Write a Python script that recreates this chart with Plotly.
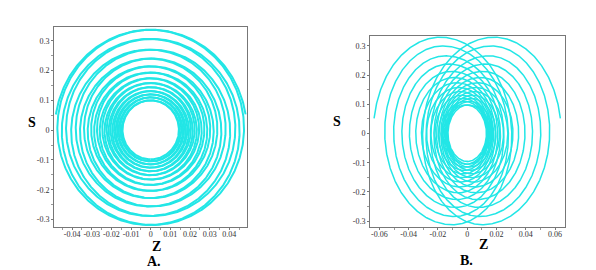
import numpy as np
import plotly.graph_objects as go

# ---- data ----
# ring radii in S (top crossings and bottom crossings, outer -> inner), one per turn
a_top = [0.337, 0.306, 0.270, 0.240, 0.214, 0.193, 0.174, 0.158, 0.144, 0.131, 0.120, 0.110, 0.100]
a_bot = [0.318, 0.288, 0.256, 0.228, 0.204, 0.184, 0.166, 0.151, 0.138, 0.126, 0.115, 0.105, 0.098]
a_zw = 0.145           # Z half-width per unit S radius (panel A)
b_top = [0.330, 0.300, 0.266, 0.238, 0.213, 0.192, 0.174, 0.158, 0.144, 0.131, 0.120, 0.110, 0.098]
b_bot = [0.312, 0.284, 0.253, 0.226, 0.203, 0.183, 0.166, 0.151, 0.138, 0.126, 0.115, 0.105, 0.096]
b_zw = 0.14
b_shift_top = [0.018, 0.016, 0.014, 0.012, 0.010, 0.0085, 0.007, 0.0055, 0.0045, 0.0035, 0.0025, 0.0015, 0.0005]
b_shift_bot = [0.011, 0.0095, 0.0085, 0.0075, 0.0065, 0.0055, 0.0046, 0.0038, 0.003, 0.0024, 0.0016, 0.001, 0.0004]
start_deg = 171.0

a_xticks = [-0.04, -0.03, -0.02, -0.01, 0, 0.01, 0.02, 0.03, 0.04]
a_xlabels = ["-0.04", "-0.03", "-0.02", "-0.01", "0", "0.01", "0.02", "0.03", "0.04"]
b_xticks = [-0.06, -0.04, -0.02, 0, 0.02, 0.04, 0.06]
b_xlabels = ["-0.06", "-0.04", "-0.02", "0", "0.02", "0.04", "0.06"]
yticks = [-0.3, -0.2, -0.1, 0, 0.1, 0.2, 0.3]
ylabels = ["-0.3", "-0.2", "-0.1", "0", "0.1", "0.2", "0.3"]

COLOR = "#22E6E6"
W, H = 596, 270


def spiral(tops, bots, zw, shift_t=None, shift_b=None):
    n = len(tops)
    key_ang, key_r, key_c = [], [], []
    for k in range(n):
        key_ang += [90 - 360 * k, -90 - 360 * k]
        key_r += [tops[k], bots[k]]
        if shift_t is not None:
            key_c += [shift_t[k], shift_b[k]]
        else:
            key_c += [0.0, 0.0]
    key_ang = np.array(key_ang)[::-1]
    key_r = np.array(key_r)[::-1]
    key_c = np.array(key_c)[::-1]
    th = np.arange(start_deg, key_ang[0] - 0.1, -0.75)
    r = np.interp(th, key_ang, key_r)
    c = np.interp(th, key_ang, key_c)
    t = np.deg2rad(th)
    z = zw * r * np.cos(t) - c
    s = r * np.sin(t)
    return z, s


fig = go.Figure()
za, sa = spiral(a_top, a_bot, a_zw)
zb, sb = spiral(b_top, b_bot, b_zw, b_shift_top, b_shift_bot)
for sign in (1, -1):
    fig.add_trace(go.Scatter(x=sign * za, y=sa, mode="lines", line=dict(color=COLOR, width=2),
                             xaxis="x", yaxis="y", showlegend=False, hoverinfo="skip"))
    fig.add_trace(go.Scatter(x=sign * zb, y=sb, mode="lines", line=dict(color=COLOR, width=1.5),
                             xaxis="x2", yaxis="y2", showlegend=False, hoverinfo="skip"))

tickfont = dict(family="Liberation Serif, Times New Roman, serif", size=8, color="#333")
common = dict(showgrid=False, zeroline=False, showline=True, mirror=True, linecolor="#777",
              linewidth=1, ticks="outside", ticklen=2, tickcolor="#777", tickfont=tickfont,
              tickangle=0,
              minor=dict(ticks="outside", ticklen=2, tickcolor="#999"))


def px(x):
    return x / W


def py(y):
    return 1 - y / H


fig.update_layout(
    width=W, height=H, margin=dict(l=0, r=0, t=0, b=0),
    paper_bgcolor="white", plot_bgcolor="white",
    xaxis=dict(domain=[px(54), px(247)], range=[-0.0492, 0.049], anchor="y",
               tickvals=a_xticks, ticktext=a_xlabels, ticklabelstandoff=-3, **common),
    yaxis=dict(domain=[py(227), py(27)], range=[-0.325, 0.346], anchor="x",
               tickvals=yticks, ticktext=ylabels, **common),
    xaxis2=dict(domain=[px(370), px(565)], range=[-0.0664, 0.0668], anchor="y2",
                tickvals=b_xticks, ticktext=b_xlabels, ticklabelstandoff=-3, **common),
    yaxis2=dict(domain=[py(227), py(36)], range=[-0.32, 0.334], anchor="x2",
                tickvals=yticks, ticktext=ylabels, **common),
)

lab = dict(family="Liberation Serif, Times New Roman, serif", size=14, color="black")
for text, x, y in [("<b>S</b>", 32, 123), ("<b>Z</b>", 156, 246), ("<b>A.</b>", 154, 261),
                   ("<b>S</b>", 337, 121), ("<b>Z</b>", 483, 244), ("<b>B.</b>", 467, 260)]:
    fig.add_annotation(text=text, x=px(x), y=py(y), xref="paper", yref="paper",
                       showarrow=False, font=lab, xanchor="center", yanchor="middle")

fig.write_html("out.html", config={"displayModeBar": False},
               post_script="document.body.style.margin='0px';document.body.style.overflow='hidden';")
